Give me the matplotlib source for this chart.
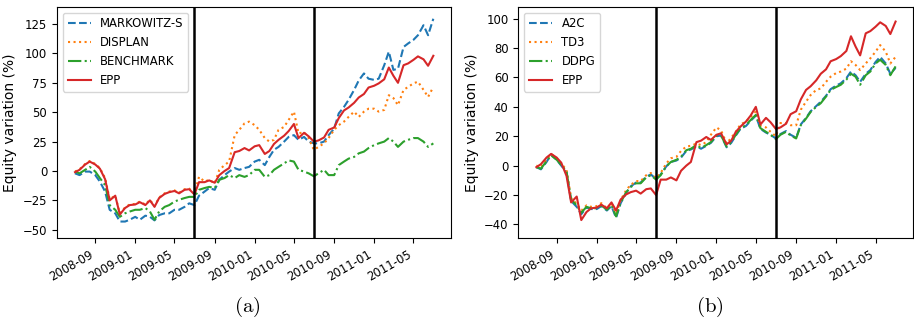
import matplotlib
matplotlib.use("Agg")
import matplotlib.pyplot as plt
import matplotlib.dates as mdates
import pandas as pd

# semi-monthly sample dates (1st and 15th), 2008-07-01 .. 2011-07-01
dates = pd.date_range("2008-07-01", "2011-07-01", freq="SMS")

epp = [-1, 1, 5.5, 8, 5.5, 2, -7, -25, -21, -37, -31.5, -29, -28.5, -26.5, -29, -25,
       -30.5, -23, -19.5, -18, -17, -19, -16, -15.5, -20, -9.5, -9.5, -8, -10, -3.5,
       0, 2.5, 16, 17, 19.5, 17.5, 21, 22, 14.5, 17, 23, 26.5, 30, 34, 40, 28, 32.5,
       29.5, 25, 26, 28.5, 35, 37, 45, 51.5, 54, 58, 62.5, 65.5, 71, 72.5, 74.5, 78,
       88, 81, 75, 90, 91.5, 94.5, 97.5, 95, 89.5, 98]

markowitz = [-2, -3.5, -0.5, -0.5, -3.5, -9, -17.5, -33, -36, -43, -43, -41.5, -39,
             -41.5, -38, -39, -42, -37.5, -36, -36, -33, -33, -30.5, -27.5, -29, -21,
             -17.5, -14.5, -16, -7.5, -3.5, -0.5, 2.5, 1, 2.5, 3.5, 8, 9.5, 5, 12, 18,
             20.5, 25, 29, 30.5, 26.5, 29, 25, 23.5, 23.5, 25, 30.5, 36, 49, 54.5, 60.5,
             69, 77, 83, 78.5, 77.5, 78.5, 90, 101.5, 86, 87, 105.5, 108.5, 111.5, 115.5,
             124, 115.5, 129.5]

displan = [-0.5, 1.5, 6, 8.5, 6, 2.5, -6, -24, -21, -36, -31, -28.5, -28, -26, -28.5,
           -24.5, -30, -22.5, -19, -17.5, -16.5, -18.5, -15.5, -15, -19, -5, -9, -7.5,
           -10.5, 1, 5, 8, 30.5, 35, 40.5, 42, 39, 35, 28, 25, 26.5, 35, 37.5, 43.5, 50.5,
           32, 33, 28, 18, 20.5, 23.5, 28, 35, 39, 42, 46, 50.5, 46, 50.5, 53, 53, 50.5,
           52, 64.5, 62, 56, 69, 71.5, 74.5, 76, 69, 63, 71.5]

benchmark = [-0.5, -2, 1, 3.5, -0.5, -6, -12, -29, -33, -39, -36, -34.5, -33, -33,
             -31.5, -34.5, -41.5, -34.5, -30.5, -29, -26, -24.5, -23, -22, -22, -16,
             -14.5, -13.5, -14.5, -7.5, -6, -3.5, -6, -3.5, -5, -3.5, 1, 1, -5, -3.5, 1,
             3.5, 6.5, 9, 8, 1, -0.5, -2, -4.5, -2, 1, -3.5, -3.5, 5, 8, 10.5, 12, 15,
             16.5, 19.5, 22, 23.5, 25, 28, 25, 20.5, 25, 26.5, 28, 28, 25, 20.5, 23.5]

a2c = [-1, -2.5, 2.5, 7.5, 4, 0, -4.5, -24, -28, -33, -28.5, -29.5, -29.5, -27.5, -30.5,
       -27.5, -35.5, -25.5, -18.5, -14, -11.5, -11.5, -7.5, -6, -9, -6, -0.5, 2.5, 3.5,
       5.5, 10, 11, 13, 11.5, 13.5, 15.5, 20, 20.5, 12.5, 15.5, 20.5, 25, 27, 30.5, 34,
       25, 22.5, 21, 18.5, 21.5, 23.5, 21, 19, 28, 32.5, 37, 40.5, 43.5, 47.5, 52, 54.5,
       56, 59.5, 64, 61.5, 57, 62.5, 65, 70.5, 74, 69.5, 62.5, 66.5]

td3 = [0, -1, 4, 8, 5, 1.5, -3, -22, -26, -30.5, -27, -28, -27.5, -25.5, -29, -25.5,
       -32.5, -23.5, -16.5, -13, -10.5, -10.5, -6.5, -5, -8.5, -5, 1.5, 5, 6, 10, 13,
       13.5, 15, 14, 16, 21, 26, 24, 15, 19, 23, 28, 30, 33, 37, 27, 26, 23, 20, 29, 29,
       27.5, 27.5, 38, 43.5, 48, 51.5, 52.5, 57, 60.5, 63, 64, 66, 71, 68.5, 65, 69.5,
       73, 77.5, 82, 77.5, 69.5, 74]

ddpg = [-1, -2, 3, 7, 4, 0.5, -4, -23, -27, -32, -28, -29, -29, -27, -30, -27, -34.5,
        -25, -18, -14.5, -12, -12, -8, -6.5, -9.5, -6.5, -0.5, 2.5, 4, 6, 10.5, 11.5, 14,
        12, 14, 16, 20.5, 20.5, 13, 16, 21, 25.5, 27.5, 31, 34.5, 25.5, 23, 21, 18, 21,
        23, 20.5, 18.5, 27.5, 32, 36.5, 40, 42.5, 47, 51.5, 53.5, 55, 58.5, 62.5, 60.5,
        55, 61.5, 64, 69.5, 72, 68.5, 61.5, 67.5]

split_dates = ["2009-07-01", "2010-07-01"]

panels = [
    {"series": [("MARKOWITZ-S", markowitz, "--", "C0"), ("DISPLAN", displan, ":", "C1"),
                ("BENCHMARK", benchmark, "-.", "C2"), ("EPP", epp, "-", "C3")],
     "ylim": (-57, 139.5), "yticks": [-50, -25, 0, 25, 50, 75, 100, 125],
     "pos": [57 / 914, 82 / 320, 394 / 914, 231 / 320], "cap": "(a)", "capx": 247 / 914},
    {"series": [("A2C", a2c, "--", "C0"), ("TD3", td3, ":", "C1"),
                ("DDPG", ddpg, "-.", "C2"), ("EPP", epp, "-", "C3")],
     "ylim": (-49.2, 107.9), "yticks": [-40, -20, 0, 20, 40, 60, 80, 100],
     "pos": [518.3 / 914, 82 / 320, 395 / 914, 231 / 320], "cap": "(b)", "capx": 710 / 914},
]

plt.rcParams["mathtext.fontset"] = "cm"
fig = plt.figure(figsize=(9.14, 3.2), dpi=100)
fs = 8.4
for p in panels:
    ax = fig.add_axes(p["pos"])
    for name, vals, ls, col in p["series"]:
        ax.plot(dates, vals, ls, color=col, lw=1.5, label=name)
    for d in split_dates:
        ax.axvline(pd.Timestamp(d), color="k", lw=1.8)
    ax.set_ylim(*p["ylim"])
    ax.set_yticks(p["yticks"])
    ax.set_xlim(pd.Timestamp("2008-05-07"), pd.Timestamp("2011-08-24"))
    ax.xaxis.set_major_locator(mdates.MonthLocator(bymonth=[1, 5, 9]))
    ax.xaxis.set_major_formatter(mdates.DateFormatter("%Y-%m"))
    ax.tick_params(labelsize=fs)
    for lab in ax.get_xticklabels():
        lab.set_rotation(30)
        lab.set_ha("right")
    ax.set_ylabel("Equity variation (%)", fontsize=10)
    ax.legend(loc="upper left", fontsize=fs)
    fig.text(p["capx"], 0.04, r"$\mathrm{" + p["cap"] + "}$", ha="center", va="center",
             fontsize=15)

fig.savefig("out.png", dpi=100)
